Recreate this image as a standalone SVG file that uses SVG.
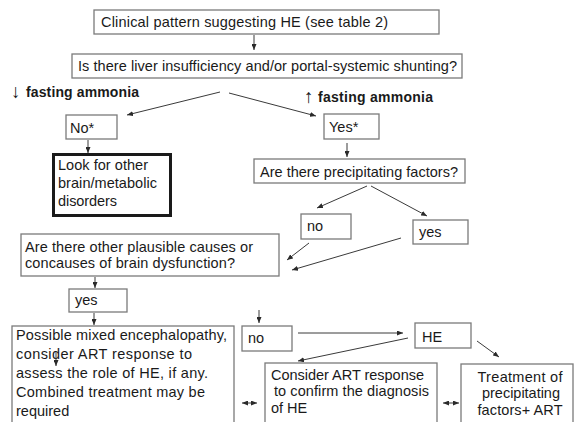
<svg xmlns="http://www.w3.org/2000/svg" width="574" height="422" viewBox="0 0 574 422">
<defs>
<style>
.box{fill:#fff;stroke:#7a7a7a;stroke-width:1.3}
.thick{fill:#fff;stroke:#1a1a1a;stroke-width:3}
.t{font-family:"Liberation Sans",Arial,sans-serif;font-size:14.5px;fill:#1a1a1a}
.b{font-family:"Liberation Sans",Arial,sans-serif;font-size:14px;font-weight:bold;fill:#1a1a1a}
.ar{font-family:"Liberation Sans",Arial,sans-serif;font-size:19px;fill:#1a1a1a}
.c{font-family:"Liberation Sans",Arial,sans-serif;font-size:14.5px;fill:#1a1a1a;text-anchor:middle}
.ln{stroke:#3a3a3a;stroke-width:1;fill:none;marker-end:url(#ah)}
.dbl{stroke:#3a3a3a;stroke-width:1;fill:none;marker-end:url(#ah);marker-start:url(#ah)}
</style>
<marker id="ah" markerUnits="userSpaceOnUse" markerWidth="6" markerHeight="5" refX="6" refY="2.5" orient="auto-start-reverse">
<path d="M0,0 L6,2.5 L0,5 z" fill="#2a2a2a"/>
</marker>
</defs>
<rect width="574" height="422" fill="#fff"/>

<g id="clinical">
<rect class="box" x="94" y="10" width="345" height="24"/>
<text class="t" x="101" y="27" textLength="287">Clinical pattern suggesting HE (see table 2)</text>
</g>
<g id="liver">
<rect class="box" x="72" y="54" width="390" height="24"/>
<text class="t" x="78" y="71" textLength="379">Is there liver insufficiency and/or portal-systemic shunting?</text>
</g>
<g id="low-ammonia">
<text class="ar" x="11" y="98">↓</text>
<text class="b" x="26" y="97" textLength="113">fasting ammonia</text>
</g>
<g id="high-ammonia">
<text class="ar" x="304" y="103">↑</text>
<text class="b" x="318" y="102" textLength="115">fasting ammonia</text>
</g>
<g id="no-star">
<rect class="box" x="66" y="115" width="51" height="24"/>
<text class="t" x="70" y="133">No*</text>
</g>
<g id="yes-star">
<rect class="box" x="324" y="114" width="55" height="25"/>
<text class="t" x="329" y="132">Yes*</text>
</g>
<g id="look">
<rect class="thick" x="53.5" y="154.5" width="117" height="61"/>
<text class="t" x="58" y="170" textLength="90">Look for other</text>
<text class="t" x="58" y="188" textLength="99">brain/metabolic</text>
<text class="t" x="58" y="206" textLength="59">disorders</text>
</g>
<g id="precip">
<rect class="box" x="254" y="159" width="211" height="24"/>
<text class="t" x="260" y="177" textLength="198">Are there precipitating factors?</text>
</g>
<g id="no-precip">
<rect class="box" x="301" y="214" width="50" height="25"/>
<text class="t" x="307" y="231">no</text>
</g>
<g id="yes-precip">
<rect class="box" x="413" y="220" width="55" height="24"/>
<text class="t" x="419" y="237">yes</text>
</g>
<g id="other-causes">
<rect class="box" x="21" y="234" width="258" height="42"/>
<text class="t" x="25" y="252" textLength="228">Are there other plausible causes or</text>
<text class="t" x="25" y="268" textLength="210">concauses of brain dysfunction?</text>
</g>
<g id="yes-other">
<rect class="box" x="69" y="289" width="58" height="23"/>
<text class="t" x="75" y="305">yes</text>
</g>
<g id="mixed">
<rect class="box" x="12" y="326" width="222" height="110"/>
<text class="t" x="16" y="340" textLength="211">Possible mixed encephalopathy,</text>
<text class="t" x="16" y="359" textLength="176">consider ART response to</text>
<text class="t" x="16" y="378" textLength="192">assess the role of HE, if any.</text>
<text class="t" x="16" y="397" textLength="189">Combined treatment may be</text>
<text class="t" x="16" y="416">required</text>
</g>
<g id="no-other">
<rect class="box" x="242" y="326" width="50" height="25"/>
<text class="t" x="248" y="343">no</text>
</g>
<g id="he">
<rect class="box" x="415" y="323" width="56" height="25"/>
<text class="t" x="422" y="342">HE</text>
</g>
<g id="consider">
<rect class="box" x="265" y="363" width="172" height="70"/>
<text class="t" x="271" y="380" textLength="153">Consider ART response</text>
<text class="t" x="274" y="396" textLength="155">to confirm the diagnosis</text>
<text class="t" x="271" y="413">of HE</text>
</g>
<g id="treatment">
<rect class="box" x="461" y="364" width="112" height="70"/>
<text class="c" x="520" y="382" textLength="85">Treatment of</text>
<text class="c" x="521" y="398" textLength="78">precipitating</text>
<text class="c" x="520" y="415" textLength="85">factors+ ART</text>
</g>

<g id="connectors">
<line class="ln" x1="254" y1="35" x2="254" y2="50"/>
<line class="ln" x1="220" y1="92" x2="127" y2="115"/>
<line class="ln" x1="229" y1="93" x2="316" y2="116"/>
<line class="ln" x1="88" y1="140" x2="88" y2="153"/>
<line class="ln" x1="347" y1="143" x2="347" y2="157"/>
<line class="ln" x1="367" y1="186" x2="317" y2="208"/>
<line class="ln" x1="371" y1="186" x2="427" y2="216"/>
<line class="ln" x1="309" y1="243" x2="287" y2="260"/>
<line class="ln" x1="401" y1="238" x2="292" y2="270"/>
<line class="ln" x1="95" y1="277" x2="95" y2="288"/>
<line class="ln" x1="94" y1="313" x2="94" y2="325"/>
<line class="ln" x1="259" y1="310" x2="259" y2="323"/>
<line class="ln" x1="298" y1="333" x2="403" y2="333"/>
<line class="ln" x1="408" y1="338" x2="298" y2="361"/>
<line class="ln" x1="477" y1="341" x2="499" y2="357"/>
<line class="dbl" x1="242" y1="403" x2="257" y2="403"/>
<line class="dbl" x1="443" y1="403" x2="459" y2="403"/>
<line class="ln" x1="56" y1="352" x2="56" y2="366"/>
</g>
</svg>
